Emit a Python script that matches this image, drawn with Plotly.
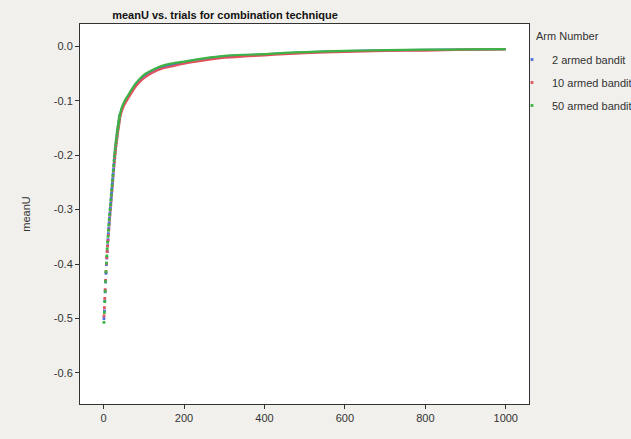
import plotly.graph_objects as go

# ---- data ----
series_names = ["2 armed bandit", "10 armed bandit", "50 armed bandit"]
series_colors = ["#4B6FE2", "#E0525C", "#3DB346"]

# early trials (individual points visible as dots)
early_trials = list(range(1, 41))
early_blue = [-0.500, -0.486, -0.468, -0.451, -0.433, -0.417, -0.401, -0.389, -0.377, -0.366,
              -0.355, -0.344, -0.334, -0.324, -0.315, -0.306, -0.297, -0.288, -0.279, -0.270,
              -0.261, -0.252, -0.243, -0.234, -0.225, -0.216, -0.207, -0.199, -0.192, -0.185,
              -0.178, -0.172, -0.166, -0.160, -0.154, -0.149, -0.144, -0.139, -0.134, -0.129]
early_red = [-0.495, -0.480, -0.463, -0.447, -0.430, -0.414, -0.399, -0.388, -0.377, -0.367,
             -0.357, -0.347, -0.337, -0.328, -0.319, -0.310, -0.301, -0.292, -0.283, -0.274,
             -0.265, -0.256, -0.247, -0.238, -0.229, -0.220, -0.212, -0.204, -0.197, -0.190,
             -0.183, -0.177, -0.171, -0.165, -0.159, -0.154, -0.149, -0.144, -0.139, -0.134]
early_green = [-0.507, -0.489, -0.469, -0.450, -0.432, -0.414, -0.398, -0.385, -0.372, -0.360,
               -0.349, -0.338, -0.328, -0.318, -0.309, -0.300, -0.291, -0.282, -0.273, -0.264,
               -0.255, -0.246, -0.237, -0.228, -0.219, -0.210, -0.202, -0.195, -0.188, -0.181,
               -0.175, -0.169, -0.163, -0.157, -0.152, -0.147, -0.142, -0.137, -0.132, -0.127]

# later trials (points merge into a continuous line)
late_trials = [40, 45, 50, 55, 60, 70, 80, 95, 105, 120, 145, 175, 200, 250, 300,
               350, 400, 450, 500, 600, 700, 800, 900, 1000]
late_blue = [-0.129, -0.115, -0.106, -0.099, -0.093, -0.081, -0.070, -0.058, -0.052, -0.046,
             -0.038, -0.033, -0.029, -0.023, -0.0185, -0.0163, -0.0148, -0.0128, -0.0110,
             -0.0089, -0.0073, -0.0065, -0.0059, -0.0054]
late_red = [-0.134, -0.120, -0.110, -0.103, -0.097, -0.085, -0.074, -0.062, -0.056, -0.049,
            -0.041, -0.036, -0.032, -0.026, -0.021, -0.0185, -0.0165, -0.0145, -0.0125,
            -0.0102, -0.0085, -0.0078, -0.0062, -0.0055]
late_green = [-0.127, -0.113, -0.104, -0.097, -0.091, -0.079, -0.068, -0.056, -0.050, -0.044,
              -0.036, -0.031, -0.028, -0.022, -0.0175, -0.0155, -0.0145, -0.0122, -0.0105,
              -0.0085, -0.0070, -0.0062, -0.0057, -0.0053]

x_tick_vals = [0, 200, 400, 600, 800, 1000]
y_tick_vals = [0.0, -0.1, -0.2, -0.3, -0.4, -0.5, -0.6]
y_tick_text = ["0.0", "-0.1", "-0.2", "-0.3", "-0.4", "-0.5", "-0.6"]

early = [early_blue, early_red, early_green]
late = [late_blue, late_red, late_green]

fig = go.Figure()
for i, name in enumerate(series_names):
    fig.add_trace(go.Scatter(
        x=late_trials, y=late[i], mode="lines", name=name, legendgroup=name,
        showlegend=False, line=dict(color=series_colors[i], width=2.2, shape="spline",
                                    smoothing=0.6),
        hoverinfo="skip"))
    fig.add_trace(go.Scatter(
        x=early_trials, y=early[i], mode="markers", name=name, legendgroup=name,
        marker=dict(color=series_colors[i], size=2.8, symbol="square",
                    line=dict(width=0))))

font_family = "Liberation Sans, Arial, sans-serif"
fig.update_layout(
    width=631, height=439,
    paper_bgcolor="#F1F0EC", plot_bgcolor="#FFFFFF",
    margin=dict(l=80, r=102, t=24, b=35, autoexpand=False),
    font=dict(family=font_family, size=11, color="#333333"),
    title=dict(text="<b>meanU vs. trials for combination technique</b>",
               x=225 / 631, xanchor="center", xref="container", y=1 - 15 / 439,
               yanchor="middle", yref="container",
               font=dict(family=font_family, size=11, color="#111111")),
    showlegend=True,
    legend=dict(xref="container", yref="container",
                x=512 / 631, xanchor="left", y=1 - 45 / 439, yanchor="top",
                bgcolor="rgba(0,0,0,0)", traceorder="grouped", tracegroupgap=4,
                font=dict(size=11, color="#333333")),
    annotations=[dict(text="Arm Number", xref="paper", yref="paper",
                      x=(534 - 80) / (631 - 80 - 102), y=1 - (36 - 24) / (439 - 24 - 35),
                      xanchor="left", yanchor="middle", showarrow=False,
                      font=dict(size=11, color="#333333"))],
)
fig.update_xaxes(range=[-58.6, 1057.8], tickvals=x_tick_vals, showgrid=False,
                 zeroline=False, showline=True, linecolor="#333333", linewidth=1,
                 mirror=True, ticks="outside", ticklen=4, tickcolor="#333333",
                 tickfont=dict(size=11, color="#333333"))
fig.update_yaxes(range=[-0.657, 0.041], tickvals=y_tick_vals, ticktext=y_tick_text,
                 showgrid=False, zeroline=False, showline=True, linecolor="#333333",
                 linewidth=1, mirror=True, ticks="outside", ticklen=4, tickcolor="#333333",
                 tickfont=dict(size=11, color="#333333"),
                 title=dict(text="meanU", standoff=20, font=dict(size=11, color="#333333")))

fig.write_html("out.html")
